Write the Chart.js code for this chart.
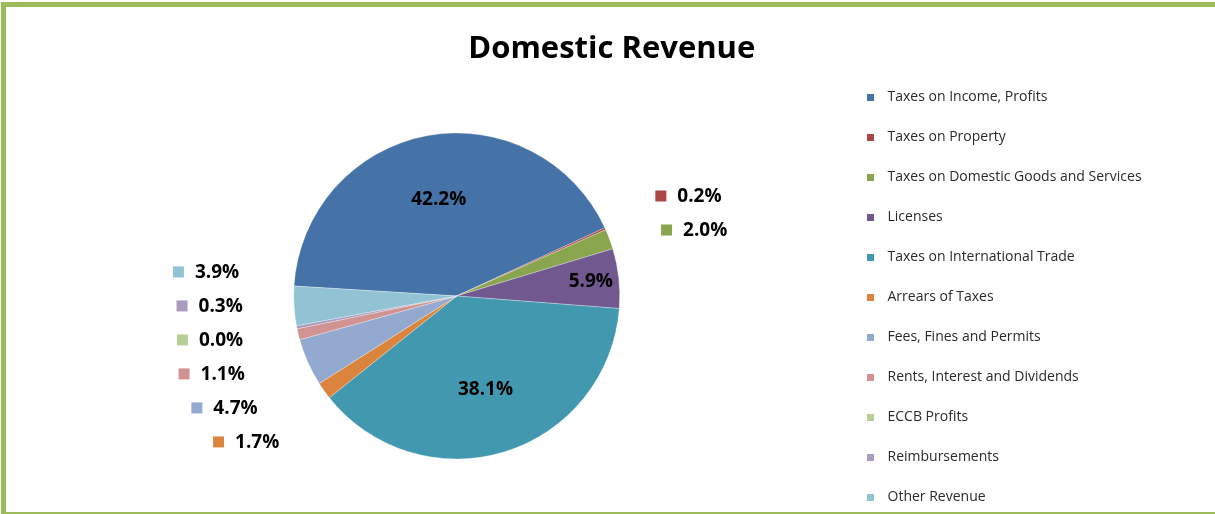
<!DOCTYPE html>
<html>
<head>
<meta charset="utf-8">
<script src="https://cdn.jsdelivr.net/npm/chart.js@4.4.1/dist/chart.umd.min.js"></script>
<style>
    html, body { margin: 0; padding: 0; background: #fff; overflow: hidden; }
    #page { position: relative; width: 1215px; height: 514px; overflow: hidden; }
    #wrap { position: absolute; left: 6px; top: 7px; width: 1209px; height: 523px; }
    #frame { position: absolute; left: 1px; top: 2px; width: 1240px; height: 515px; box-sizing: border-box;
             border: 5px solid #9BBB59; pointer-events: none; z-index: 2; }
</style>
</head>
<body>
<div id="page">
    <div id="wrap"><canvas id="grafico"></canvas></div>
    <div id="frame"></div>
</div>
<script>
const categorias = [
    'Taxes on Income, Profits', 'Taxes on Property', 'Taxes on Domestic Goods and Services',
    'Licenses', 'Taxes on International Trade', 'Arrears of Taxes', 'Fees, Fines and Permits',
    'Rents, Interest and Dividends', 'ECCB Profits', 'Reimbursements', 'Other Revenue'
];
const percentuais = [42.2, 0.2, 2.0, 5.9, 38.1, 1.7, 4.7, 1.1, 0.0, 0.3, 3.9];
const cores = ['#4572A7', '#AA4643', '#89A54E', '#71588F', '#4198AF', '#DB843D',
    '#93A9CF', '#D19392', '#B9CD96', '#A99BBD', '#91C3D5'];

const FONTE = '"Open Sans", "DejaVu Sans", sans-serif';
const GAP = 34;

// rótulos das fatias: dentro das grandes, fora (com quadradinho) das pequenas
const rotulos = {
    id: 'rotulos',
    afterDatasetsDraw(chart) {
        const ctx = chart.ctx;
        const arcs = chart.getDatasetMeta(0).data;
        const valores = chart.data.datasets[0].data;
        ctx.save();
        ctx.font = 'bold 19px ' + FONTE;
        ctx.textBaseline = 'middle';
        const fora = [];
        arcs.forEach((arc, i) => {
            const { x, y, startAngle, endAngle, outerRadius: r } =
                arc.getProps(['x', 'y', 'startAngle', 'endAngle', 'outerRadius'], true);
            const meio = (startAngle + endAngle) / 2;
            const texto = valores[i].toFixed(1) + '%';
            const tw = ctx.measureText(texto).width;
            if (valores[i] >= 5) {
                const d = valores[i] >= 20 ? r * 0.6 : r - tw / 2 - 6;
                ctx.fillStyle = '#000';
                ctx.textAlign = 'center';
                ctx.fillText(texto, x + Math.cos(meio) * d, y + Math.sin(meio) * d);
            } else {
                const d = r + 55;
                fora.push({ i, texto, tw, direita: Math.cos(meio) >= 0,
                    ax: x + Math.cos(meio) * d, ay: y + Math.sin(meio) * d });
            }
        });

        // afasta os rótulos que se sobrepõem, lado a lado
        [true, false].forEach(lado => {
            const grupo = fora.filter(l => l.direita === lado).sort((a, b) => a.ay - b.ay);
            const blocos = [];
            grupo.forEach(l => {
                blocos.push({ itens: [l], media: l.ay });
                while (blocos.length > 1) {
                    const ult = blocos[blocos.length - 1], ant = blocos[blocos.length - 2];
                    const fimAnt = ant.media + (ant.itens.length - 1) * GAP / 2;
                    const iniUlt = ult.media - (ult.itens.length - 1) * GAP / 2;
                    if (iniUlt - fimAnt >= GAP) break;
                    const itens = ant.itens.concat(ult.itens);
                    blocos.splice(-2, 2, { itens, media: itens.reduce((s, o) => s + o.ay, 0) / itens.length });
                }
            });
            blocos.forEach(b => b.itens.forEach((l, k) => {
                l.y = b.media + (k - (b.itens.length - 1) / 2) * GAP;
            }));
        });

        fora.forEach(l => {
            const largura = 22 + l.tw;
            const esq = l.direita ? l.ax : l.ax - largura;
            ctx.fillStyle = cores[l.i];
            ctx.fillRect(esq, l.y - 5.5, 11, 11);
            ctx.fillStyle = '#000';
            ctx.textAlign = 'left';
            ctx.fillText(l.texto, esq + 22, l.y + 1);
        });
        ctx.restore();
    }
};

// quadradinho da legenda, desenhado à esquerda de uma imagem mais larga
const chaveLegenda = cor => {
    const c = document.createElement('canvas');
    c.width = 14; c.height = 7;
    const g = c.getContext('2d');
    g.fillStyle = cor;
    g.fillRect(0, 0, 7, 7);
    return c;
};
const chaves = cores.map(chaveLegenda);

// largura da legenda para posicionar o bloco
const medidor = document.createElement('canvas').getContext('2d');
medidor.font = '14px ' + FONTE;
const maiorTexto = Math.max(...categorias.map(c => medidor.measureText(c).width));
const legendaEsq = 835.5;
const padDireita = 1209 - legendaEsq - (26 + 13 + 7 + maiorTexto + 10);

new Chart(document.getElementById('grafico').getContext('2d'), {
    type: 'pie',
    data: {
        labels: categorias,
        datasets: [{
            data: percentuais,
            backgroundColor: cores,
            borderColor: 'rgba(255,255,255,0.5)',
            borderWidth: 0.6
        }]
    },
    options: {
        responsive: true, maintainAspectRatio: false,
        animation: false,
        radius: 163,
        rotation: 273.5,
        layout: { padding: { left: 66, right: padDireita, top: 0, bottom: 0 } },
        plugins: {
            title: {
                display: true,
                text: 'Domestic Revenue',
                color: '#000',
                font: { family: FONTE, size: 31, weight: 'bold', lineHeight: 0.8 },
                padding: { top: 30.2, bottom: 0 }
            },
            legend: {
                position: 'right',
                align: 'end',
                labels: {
                    usePointStyle: true, pointStyleWidth: 13, boxHeight: 7,
                    padding: 26, color: '#2a2a2a',
                    font: { family: FONTE, size: 14 },
                    generateLabels: chart => Chart.overrides.pie.plugins.legend.labels.generateLabels(chart)
                        .map(l => ({ ...l, lineWidth: 0, pointStyle: chaves[l.index] }))
                }
            },
            tooltip: { enabled: false }
        }
    },
    plugins: [rotulos]
});
</script>
</body>
</html>
